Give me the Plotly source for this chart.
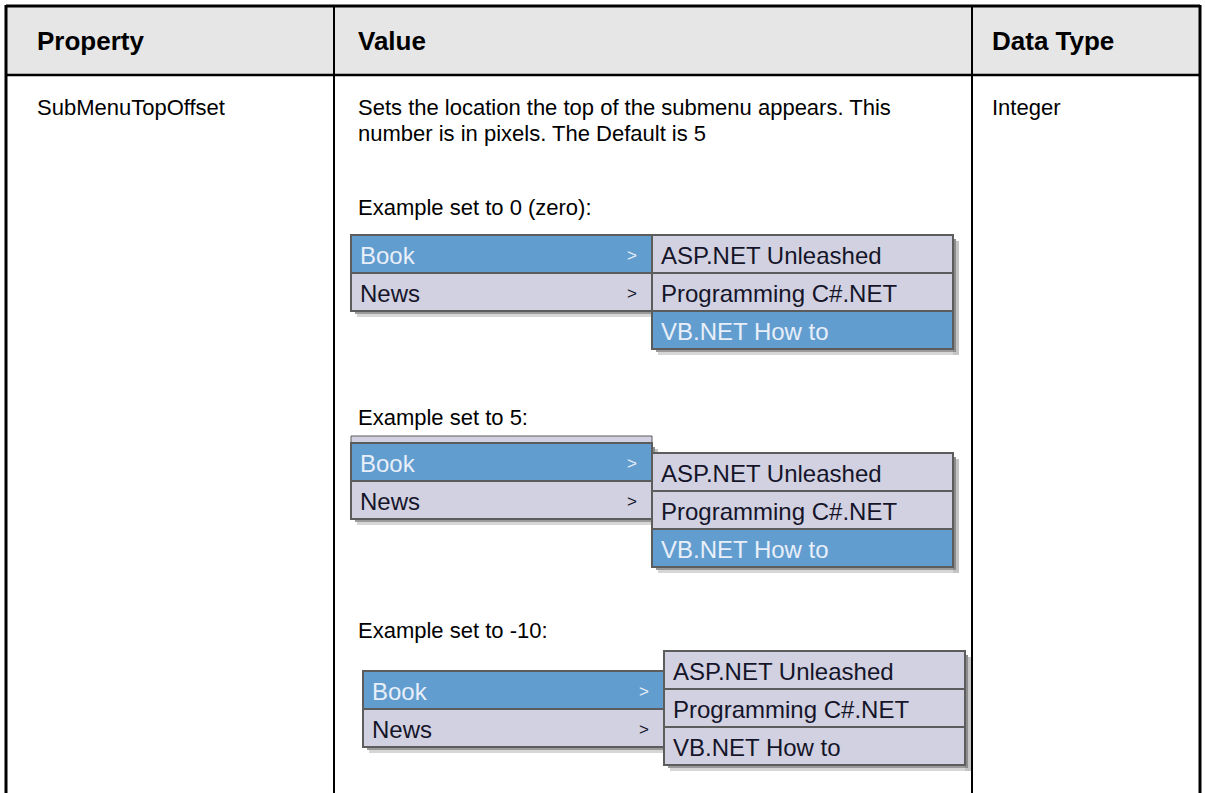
import plotly.graph_objects as go

W, H = 1205, 793

# ---- data (text content) ----
headers = ["Property", "Value", "Data Type"]
property_name = "SubMenuTopOffset"
description_lines = ["Sets the location the top of the submenu appears. This",
                     "number is in pixels. The Default is 5"]
data_type = "Integer"
example_labels = ["Example set to 0 (zero):", "Example set to 5:", "Example set to -10:"]
offsets = [0, 5, -10]
main_items = ["Book", "News"]
sub_items = ["ASP.NET Unleashed", "Programming C#.NET", "VB.NET How to"]
main_highlight = [0, 0, 0]
sub_highlight = [2, 2, None]

# ---- layout constants ----
col_x = [6, 334, 972, 1200]
table_top, header_bottom = 6, 75
header_fill = "#e6e6e6"
blue = "#629dd0"
lav = "#d2d1e1"
border = "#5c5c5c"
txt_dark = "#15152a"
txt_light = "#e8eff9"

main_left = [351, 351, 363]
main_top = [235, 443, 671]
label_y = [207, 417, 630]
row_h = 38
menu_w = 301
scale = 2  # screenshot scale relative to pixels

body_font = dict(family="Liberation Sans, Arial", size=22, color="#000000")
head_font = dict(family="Liberation Sans, Arial", size=26, color="#000000")
menu_font = "Liberation Sans, Arial"

fig = go.Figure()
fig.add_trace(go.Scatter(x=[0, W], y=[0, H], mode="markers",
                         marker=dict(opacity=0), hoverinfo="skip", showlegend=False))

shapes = []
ann = []

def rect(x0, y0, x1, y1, fill, line=None, lw=0):
    shapes.append(dict(type="rect", xref="x", yref="y", x0=x0, y0=y0, x1=x1, y1=y1,
                       fillcolor=fill, line=dict(color=line or fill, width=lw), layer="above"))

def line(x0, y0, x1, y1, color="#000000", w=2):
    shapes.append(dict(type="line", xref="x", yref="y", x0=x0, y0=y0, x1=x1, y1=y1,
                       line=dict(color=color, width=w)))

def text(x, y, s, font, xanchor="left"):
    ann.append(dict(x=x, y=y, xref="x", yref="y", text=s, showarrow=False,
                    xanchor=xanchor, yanchor="middle", font=font, borderpad=0))

# ---- table ----
rect(col_x[0], table_top, col_x[3], header_bottom, header_fill)
line(col_x[0], table_top, col_x[3], table_top, w=3)
line(col_x[0], header_bottom, col_x[3], header_bottom, w=2.5)
line(col_x[0], table_top - 1, col_x[0], H + 5, w=3)
line(col_x[3], table_top - 1, col_x[3], H + 5, w=3)
for cx in col_x[1:3]:
    line(cx, table_top, cx, H + 5, w=2)

hx = [36, 357, 991]
for h, x in zip(headers, hx):
    text(x, 41, "<b>%s</b>" % h, head_font)

text(36, 107, property_name, body_font)
text(991, 107, data_type, body_font)
for i, s in enumerate(description_lines):
    text(357, 107 + 26 * i, s, body_font)

# ---- menus ----
def menu(left, top, items, hl, arrows):
    n = len(items)
    bottom = top + n * row_h
    rect(left + 6, bottom, left + menu_w + 6, bottom + 6, "#d6d6d6")
    rect(left + menu_w, top + 6, left + menu_w + 6, bottom + 6, "#c4c4c4")
    rect(left + 4, bottom, left + menu_w + 3, bottom + 3, "#9a9a9a")
    rect(left + menu_w, top + 4, left + menu_w + 3, bottom + 3, "#8c8c8c")
    for i, it in enumerate(items):
        y0 = top + i * row_h
        is_hl = (hl is not None and i == hl)
        rect(left, y0, left + menu_w, y0 + row_h, blue if is_hl else lav, border, 2)
        col = txt_light if is_hl else txt_dark
        text(left + 8, y0 + row_h / 2 + 1, it, dict(family=menu_font, size=24, color=col))
        if arrows:
            text(left + 275, y0 + row_h / 2 + 1, "&gt;", dict(family=menu_font, size=17, color=col))

for k in range(len(offsets)):
    text(357, label_y[k], example_labels[k], body_font)
    left = main_left[k]
    top = main_top[k]
    if k == 1:
        rect(left, top - 7, left + menu_w, top, lav, border, 1)
    menu(left, top, main_items, main_highlight[k], True)
    menu(left + menu_w, top + scale * offsets[k], sub_items, sub_highlight[k], False)

fig.update_layout(
    width=W, height=H, autosize=False,
    margin=dict(l=0, r=0, t=0, b=0),
    paper_bgcolor="#ffffff", plot_bgcolor="#ffffff",
    xaxis=dict(range=[0, W], visible=False, fixedrange=True),
    yaxis=dict(range=[H, 0], visible=False, fixedrange=True),
    shapes=shapes, annotations=ann, showlegend=False,
)
fig.write_html("out.html", config=dict(displayModeBar=False),
               post_script="document.body.style.margin='0';document.body.style.overflow='hidden';")
